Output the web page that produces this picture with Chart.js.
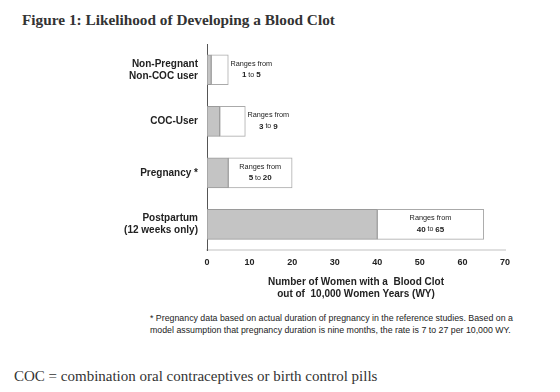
<!DOCTYPE html>
<html>
<head>
<meta charset="utf-8">
<script src="https://cdn.jsdelivr.net/npm/chart.js@4.4.0/dist/chart.umd.min.js"></script>
<style>
  body { margin: 0; width: 560px; height: 392px; background: #fff; position: relative; overflow: hidden; }
  #title { position: absolute; left: 22px; top: 11px; font: bold 15.3px "Liberation Serif", serif; color: #333; }
  #box { position: absolute; left: 0; top: 40px; width: 560px; height: 260px; }
  #note { position: absolute; left: 150px; top: 312px; font: 8.8px "Liberation Sans", Arial, sans-serif; color: #222; line-height: 12px; }
  #coc { position: absolute; left: 14px; top: 368px; font: 15px "Liberation Serif", serif; color: #333; }
</style>
</head>
<body>
<div id="title">Figure 1: Likelihood of Developing a Blood Clot</div>
<div id="box"><canvas id="graphic"></canvas></div>
<div id="note">* Pregnancy data based on actual duration of pregnancy in the reference studies. Based on a<br>model assumption that pregnancy duration is nine months, the rate is 7 to 27 per 10,000 WY.</div>
<div id="coc">COC = combination oral contraceptives or birth control pills</div>
<script>
var categorias = [['Non-Pregnant', 'Non-COC user'], 'COC-User', 'Pregnancy *', ['Postpartum', '(12 weeks only)']];
var valorMinimo = [1, 3, 5, 40];
var valorMaximo = [5, 9, 20, 65];
var xTicks = [0, 10, 20, 30, 40, 50, 60, 70];

var faixaBaixa = [];
var faixaAlta = [];
for (var i = 0; i < categorias.length; i++) {
    faixaBaixa.push([0, valorMinimo[i]]);
    faixaAlta.push([valorMinimo[i], valorMaximo[i]]);
}

// writes "Ranges from / a to b" next to or inside each white bar
var rangeLabels = {
    id: 'rangeLabels',
    afterDatasetsDraw: function(chart) {
        var c = chart.ctx;
        var xs = chart.scales.x;
        var meta = chart.getDatasetMeta(1);
        c.save();
        c.fillStyle = '#222';
        c.textBaseline = 'middle';
        for (var i = 0; i < valorMinimo.length; i++) {
            var x0 = xs.getPixelForValue(valorMinimo[i]);
            var x1 = xs.getPixelForValue(valorMaximo[i]);
            var cy = meta.data[i].y;
            var cx = (x1 - x0) > 50 ? (x0 + x1) / 2 : x1 + 23;
            c.textAlign = 'center';
            c.font = '7.3px "Liberation Sans", Arial, sans-serif';
            c.fillText('Ranges from', cx, cy - 6);
            var a = String(valorMinimo[i]), b = String(valorMaximo[i]);
            var fb = 'bold 8px "Liberation Sans", Arial, sans-serif';
            var fn = '7px "Liberation Sans", Arial, sans-serif';
            c.font = fb; var wa = c.measureText(a).width, wb = c.measureText(b).width;
            c.font = fn; var wt = c.measureText(' to ').width;
            var sx = cx - (wa + wt + wb) / 2;
            c.textAlign = 'left';
            c.font = fb; c.fillText(a, sx, cy + 5);
            c.font = fn; c.fillText(' to ', sx + wa, cy + 5);
            c.font = fb; c.fillText(b, sx + wa + wt, cy + 5);
        }
        c.restore();
    }
};

var ctx = document.getElementById('graphic');
var chartGraph = new Chart(ctx, {
    type: 'bar',
    data: {
        labels: categorias,
        datasets: [{
            label: 'low',
            data: faixaBaixa,
            backgroundColor: '#c4c4c4',
            borderColor: '#9a9a9a',
            borderWidth: 1,
            borderSkipped: false,
            barThickness: 30,
            order: 1
        }, {
            label: 'range',
            data: faixaAlta,
            backgroundColor: '#ffffff',
            borderColor: '#aaaaaa',
            borderWidth: 1,
            borderSkipped: false,
            barThickness: 30,
            order: 2
        }]
    },
    plugins: [rangeLabels],
    options: {
        indexAxis: 'y',
        grouped: false,
        responsive: true,
        maintainAspectRatio: false,
        animation: false,
        layout: { padding: { top: 4, right: 55, left: 0, bottom: 0 } },
        plugins: { legend: { display: false }, tooltip: { enabled: false } },
        scales: {
            x: {
                min: 0, max: 70,
                afterBuildTicks: function(s) { s.ticks = xTicks.map(function(v) { return { value: v }; }); },
                grid: { display: false, drawTicks: false },
                border: { color: '#e0e0e0', width: 2 },
                ticks: { color: '#222', font: { family: '"Liberation Sans", Arial, sans-serif', size: 9, weight: 'bold' }, padding: 7, maxRotation: 0 },
                title: {
                    display: true,
                    text: ['Number of Women with a  Blood Clot', 'out of  10,000 Women Years (WY)'],
                    color: '#222',
                    font: { family: '"Liberation Sans", Arial, sans-serif', size: 10, weight: 'bold', lineHeight: 1.2 },
                    padding: { top: 1, bottom: 0 }
                }
            },
            y: {
                grid: { display: false, drawTicks: false },
                border: { color: '#555', width: 1 },
                afterFit: function(s) { s.width = 207; s.paddingTop = 0; s.paddingBottom = 0; },
                ticks: { color: '#222', padding: 9, font: { family: '"Liberation Sans", Arial, sans-serif', size: 10, weight: 'bold' } }
            }
        }
    }
});
</script>
</body>
</html>
